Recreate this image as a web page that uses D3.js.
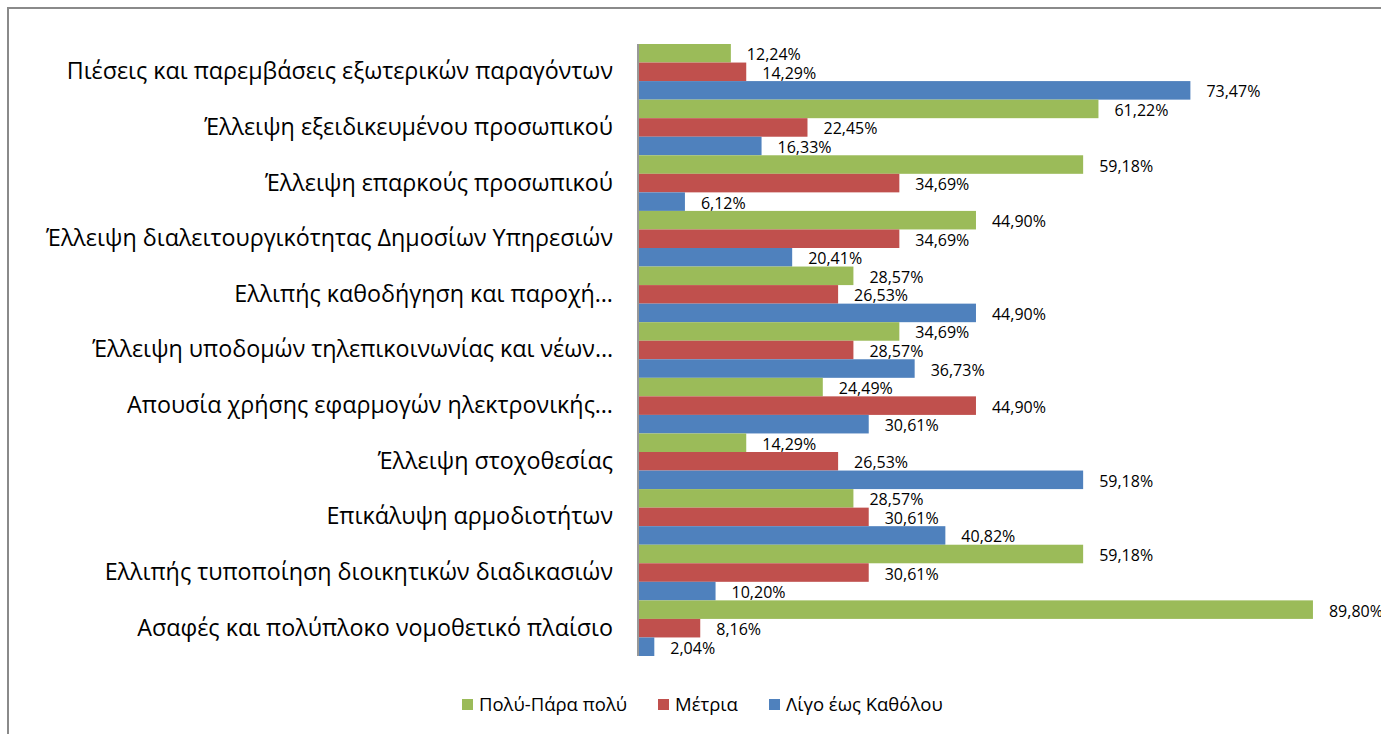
<!DOCTYPE html>
<html>
<head>
<meta charset="utf-8">
<script src="https://cdn.jsdelivr.net/npm/d3@7"></script>
<style>
  body { margin: 0; background: #fff; }
  svg { display: block; font-family: "Open Sans", "Noto Sans", sans-serif; }
</style>
</head>
<body>
<svg id="chart"></svg>
<script>
const categories = [
  'Πιέσεις και παρεμβάσεις εξωτερικών παραγόντων',
  'Έλλειψη εξειδικευμένου προσωπικού',
  'Έλλειψη επαρκούς προσωπικού',
  'Έλλειψη διαλειτουργικότητας Δημοσίων Υπηρεσιών',
  'Ελλιπής καθοδήγηση και παροχή…',
  'Έλλειψη υποδομών τηλεπικοινωνίας και νέων…',
  'Απουσία χρήσης εφαρμογών ηλεκτρονικής…',
  'Έλλειψη στοχοθεσίας',
  'Επικάλυψη αρμοδιοτήτων',
  'Ελλιπής τυποποίηση διοικητικών διαδικασιών',
  'Ασαφές και πολύπλοκο νομοθετικό πλαίσιο'
];
const seriesNames = ['Πολύ-Πάρα πολύ', 'Μέτρια', 'Λίγο έως Καθόλου'];
const poluValues = [12.24, 61.22, 59.18, 44.90, 28.57, 34.69, 24.49, 14.29, 28.57, 59.18, 89.80];
const metriaValues = [14.29, 22.45, 34.69, 34.69, 26.53, 28.57, 44.90, 26.53, 30.61, 30.61, 8.16];
const ligoValues = [73.47, 16.33, 6.12, 20.41, 44.90, 36.73, 30.61, 59.18, 40.82, 10.20, 2.04];
const seriesColors = ['#9BBB59', '#C0504D', '#4F81BD'];

const config = {
  width: 1381,
  height: 734,
  margin: { top: 44, left: 639 },
  plotWidth: 750.5,
  plotHeight: 612
};

const data = categories.map((c, i) => ({
  category: c,
  values: [poluValues[i], metriaValues[i], ligoValues[i]]
}));

const svg = d3.select('#chart').attr('width', config.width).attr('height', config.height);

// chart area border (only left and top visible in the frame)
svg.append('rect')
  .attr('x', 8).attr('y', 8)
  .attr('width', 1500).attr('height', 1000)
  .attr('fill', 'none').attr('stroke', '#8a8a8a').attr('stroke-width', 2);

const chart = svg.append('g')
  .attr('transform', `translate(${config.margin.left},${config.margin.top})`);

const xScale = d3.scaleLinear().domain([0, 100]).range([0, config.plotWidth]);
const yScale = d3.scaleBand().domain(categories).range([0, config.plotHeight]).padding(0);
const ySub = d3.scaleBand().domain(seriesNames).range([0, yScale.bandwidth()]).padding(0);
const color = d3.scaleOrdinal().domain(seriesNames).range(seriesColors);
const fmt = v => d3.format('.2f')(v).replace('.', ',') + '%';

const groups = chart.selectAll('g.group').data(data).enter().append('g')
  .attr('class', 'group')
  .attr('transform', d => `translate(0,${yScale(d.category)})`);

const cells = groups.selectAll('g.cell')
  .data(d => seriesNames.map((s, j) => ({ key: s, value: d.values[j] })))
  .enter().append('g').attr('class', 'cell');

cells.append('rect')
  .attr('x', 0)
  .attr('y', d => ySub(d.key))
  .attr('width', d => xScale(d.value))
  .attr('height', ySub.bandwidth())
  .attr('fill', d => color(d.key));

cells.append('text')
  .attr('x', d => xScale(d.value) + 16)
  .attr('y', d => ySub(d.key) + ySub.bandwidth() / 2 + 7)
  .attr('font-size', 16)
  .attr('fill', '#000')
  .text(d => fmt(d.value));

// category axis
const yAxis = d3.axisLeft(yScale).tickSize(0).tickPadding(26);
const yAxisG = chart.append('g').attr('class', 'axis y-axis').call(yAxis);
yAxisG.select('.domain').attr('stroke', '#989898').attr('stroke-width', 2).attr('d', `M-1,0V${config.plotHeight}`);
yAxisG.selectAll('.tick text')
  .attr('font-family', '"Open Sans", "Noto Sans", sans-serif')
  .attr('font-size', 23.3)
  .attr('fill', '#000');

// legend
const legendX = [462, 658, 769];
const legend = svg.append('g').attr('class', 'legend');
const items = legend.selectAll('g').data(seriesNames).enter().append('g')
  .attr('transform', (d, i) => `translate(${legendX[i]},699)`);
items.append('rect').attr('width', 11).attr('height', 11).attr('fill', d => color(d));
items.append('text').attr('x', 17).attr('y', 12).attr('font-size', 18.5).attr('fill', '#000').text(d => d);
</script>
</body>
</html>
